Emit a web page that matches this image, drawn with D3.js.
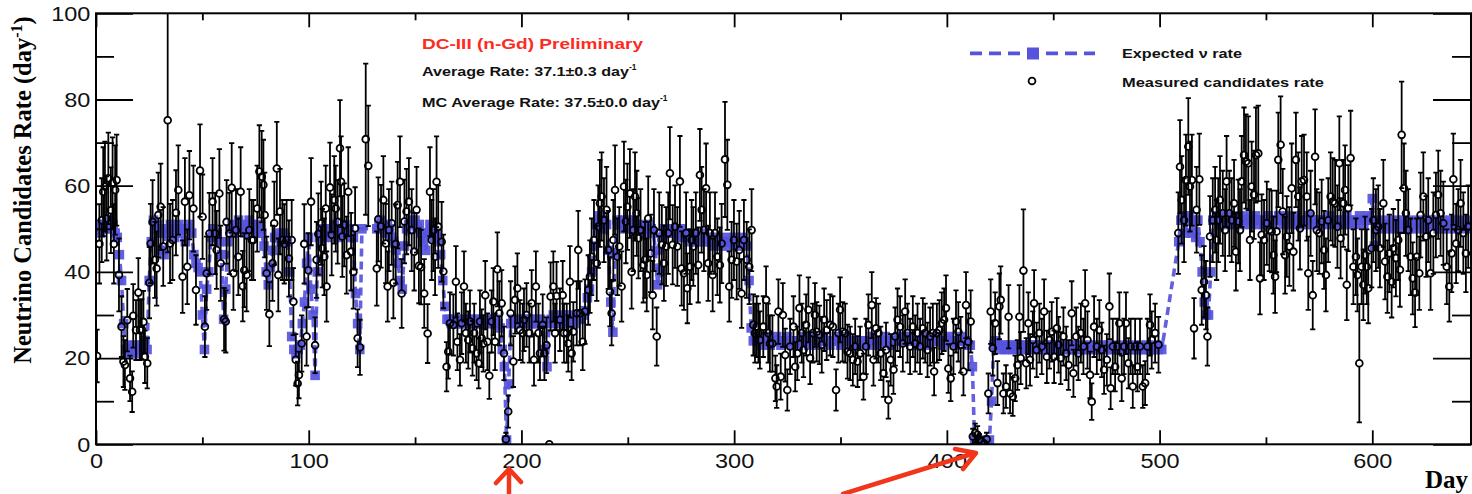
<!DOCTYPE html>
<html><head><meta charset="utf-8">
<script src="https://cdn.jsdelivr.net/npm/d3@7"></script>
<style>
html,body{margin:0;padding:0;background:#fff;}
svg{display:block;}
</style></head>
<body>
<svg id="chart" width="1472" height="494"></svg>
<script>
// Measured daily neutrino-candidate rate: [day, candidates per day]
const candidates = [
[0.5,20.5],[1.6,46.5],[2.7,52],[3.4,58.6],[4.2,59.8],[5,52.4],[5.8,61.7],[7,54.3],[7.8,60.7],[8.4,46.5],[9,59],[9.7,61.3],[10.8,39.3],[12,27.3],[12.9,19.2],[13.6,18.4],[14.7,28.8],[16,15.3],[17,12.2],[17.5,29.8],[18.8,26.5],[19.9,35.2],[20.7,26.5],[21.5,26.7],[22.3,28.4],[23,20.3],[24.1,18.8],[25.1,37.5],[25.7,46.6],[26.6,51.6],[27.7,42.8],[28.5,40.8],[29.3,53.2],[30.4,55.1],[31.6,45.9],[33.7,75.2],[34.8,46.6],[36,47.4],[37.6,53.7],[38.7,59],[40.7,38.9],[41.8,56.3],[42.9,41.2],[43.9,57.8],[45.8,54.7],[47,35.8],[48.9,63.5],[50.1,52.8],[51.2,27.3],[52,39.7],[53.3,48.9],[54.8,56.3],[56,48.9],[56.7,45.1],[58,58.2],[58.6,42],[60.2,29],[61,28.5],[61.4,51.6],[62.7,48.9],[63.8,59.5],[64.6,39.7],[65.8,49.7],[66.9,43.5],[68,58.6],[69,36.7],[69.7,40.4],[70.8,39.3],[72.1,49.7],[73.2,47.4],[74,47.4],[75.8,54.7],[76.8,63.3],[77.9,62.1],[78.7,60.2],[79.3,53.2],[80.2,39.7],
[81.5,30.2],[83,42],[83.8,51.3],[85,64],[85.7,39.3],[86.5,54],[87.6,47.4],[88.5,46.5],[89.6,47.4],[90.7,43.1],[92,47.4],[92.8,33.1],[93.9,19.6],[94.8,14.1],[95.4,16.1],[96.7,23.4],[97.9,46.5],[99,25],[99.8,40.4],[101.1,56.3],[103,23],[103.7,42.8],[104.5,48.8],[105.8,51.3],[106.4,45.5],[107.3,43.5],[108,54.7],[108.4,36.6],[110,59.6],[110.8,48.6],[112,56.7],[112.7,54.7],[113.6,51.6],[114.7,68.7],[115.2,60.9],[115.8,48.2],[116.7,50.9],[117.8,43.9],[118.6,58.6],[119.9,44.7],[121,40],[121.8,50.1],[123,24.6],[124.1,22.5],[126.8,70.8],[128,64.6],[132,40.8],[132.7,52.2],[134,50.6],[135.1,56.7],[136.2,46.6],[137.1,36.6],[137.7,49.7],[139,51.3],[139.8,37.5],[140.9,46.5],[141.8,55.5],[142.9,60.9],[143.7,35],[145,51.7],[146,54],[147.1,56.3],[148.4,49.7],[149.6,44.7],[150.7,54.4],[151.8,41.4],[152.8,41.1],[154.3,35],[155.9,25.7],[157,58.6],[157.8,47.4],[158.6,49.7],[159.4,43.5],[160.1,60.9],[160.9,50.5],[162.5,47],
[163.3,40.1],[164.8,18],[165.6,21.5],[166.4,28.1],[168,27.7],[169.2,37.7],[169.9,23.8],[171.1,19.6],[171.9,28.1],[173,36.6],[173.9,25.8],[175,24.2],[175.8,28.5],[177,22.3],[177.8,25.8],[178.9,21.1],[179.9,18.8],[180.5,28.5],[181.3,24.6],[182.1,23.4],[183,34.6],[184,23.8],[184.9,15.9],[186,28.5],[186.8,33.1],[187.6,23.8],[188.7,40.6],[189.6,30.4],[190.7,32.7],[191.8,21.1],[192.7,1.2],[193.8,7.6],[194.9,30.4],[196.2,19.2],[197,33.5],[198.1,36.2],[199.3,26.5],[200.6,25.8],[201.2,28.9],[202.4,30],[203.7,25.8],[204.8,32.7],[205.9,19.6],[206.8,36.6],[208,25.8],[208.7,21.1],[210,27.7],[210.8,21.1],[211.8,23],[213.1,0],[213.7,34.3],[215,36.6],[215.8,25.8],[216.5,34.4],[218.1,28.9],[219.4,34.6],[220,25.8],[221.3,25.8],[222,23.4],[222.8,37.7],[223.6,21.1],[224.4,26.1],[226,30.4],[226.7,45.1],[227.5,30.4],[228.8,23.8],[229.9,30.8],[231.4,35.8],[232.2,38.9],[233,43.5],[234.1,47.4],[235.4,42],[236.1,50.5],[236.9,55.9],[237.7,57.5],[238.8,52],[240,54.4],[240.8,45.1],[241.6,35.4],[242.4,30.4],[243.2,47.4],[244,59],[245.1,43.5],[246,45.9],[247.1,36.6],[248.2,59.8],[249.1,51.7],[249.8,55.1],[251,58.2],[251.8,40],[252.6,49.7],[253.4,57.5],[254.2,53.6],[255,47.8],[256,49.7],[257.3,41.6],[258.1,42.8],[258.9,39.3],[259.6,52.4],[260.7,44.3],[261.7,34.6],[262.3,49.7],[263.6,25],[264.8,49],[266,46.3],[267,42],[268,45.9],[269,49],[269.8,62.9],[271.1,46.3],[272.2,50.5],[273.3,45.9],[274.5,61],[275.3,40.8],[276.4,39.7],[277.4,49],[278,36.2],[279.2,41.2],[280,47.4],[280.8,45.9],[282,49],[283.1,41.6],[283.9,62.5],[284.7,54.4],[285.8,49.7],[286.8,59.4],[287.8,42],[288.6,49],[289.9,39.3],[291,49],[292.1,43.5],[293.3,41.6],[294.1,46.6],[295.7,66.1],[296.8,60.2],[297.7,36.6],[298.8,42.8],[299.9,47.4],[301.2,42.4],[302.4,45.1],[303.5,35],[304.6,47.4],[305.9,42.8],[307.1,41.2],[308.2,49.7],[309,27.7],[309.8,25.8],[310.6,27.3],[311.4,25.8],[312.1,24.2],[313.7,27.3],[315,33.5],[316,25.8],[316.8,23.4],[318,23.4],[319.4,15.3],[320,13.4],
[320.8,30.8],[321.9,15.7],[322.9,30],[324,20.7],[325,12.6],[326.3,22.7],[327.9,27.3],[328.7,18],[329.7,21.1],[330.7,31.6],[331.8,25.8],[332.6,21.9],[333.8,27.7],[334.9,31.2],[335.7,20],[337,25.8],[338,30],[338.8,26.1],[340.1,25.4],[341.2,23.1],[342.3,28.9],[343.5,26.5],[345.1,27.7],[346.4,27.3],[347.9,12.6],[349,25.8],[349.8,31.2],[351,26.1],[352.2,25.8],[353.3,21.5],[354.5,21.1],[355.8,19.6],[356.9,22.7],[358,19.2],[359.2,21.1],[360.8,15.7],[362,22.7],[363.1,27.7],[364.7,32.3],[365.5,19.6],[366.7,26.9],[367.8,25.8],[368.9,21.1],[370.2,16.5],[371.4,21.9],[372.5,10.3],[373.6,19.6],[374.9,17.3],[375.7,25],[376.8,28.9],[378,27.3],[379.3,23.4],[380.4,30.8],[381.5,25.8],[382.7,22.7],[384,27.3],[385.1,23.4],[386.2,25.8],[387.4,22.7],[388.7,26.9],[389.8,25.8],[390.9,21.9],[392.1,25],[393.4,25.8],[394,16.9],[395.3,25.8],[396.5,26.5],[397.6,28.1],[398.7,28.9],[399.6,31.6],[400.7,17.6],[401.8,15.3],[403.1,22.7],[404.3,28.5],[405.4,26.1],[406.5,23.1],[407.8,16.9],[409,32.3],[410.1,23.8],[411.2,28.5],[412.2,1.8],[413.3,2.6],[414.4,2.2],[415.3,1],[416.4,0.6],[417.5,0.2],[418.7,1.2],[419.5,11.8],[420.6,30.8],[421.6,22.3],[422.7,28.1],[423.8,14.2],[424.7,32],[425.3,33.5],[426.6,11.8],[427.8,13.4],[429,29.6],[429.7,11.8],[431,11.1],[432.1,15.3],[433.2,18.4],[434.1,29.6],[434.7,20],[436,40.3],[437.3,18.8],[438.3,28.1],[439.1,19.6],[440.4,24.2],[441,32.7],[442.2,21.9],[443.5,25.8],[444.6,22.7],[445.7,30.8],[447,20.3],[448.2,24.2],[449.3,26.1],[450.4,20.3],[451.7,26.9],[452.5,23.1],[453.5,20],[454.8,25],[456.1,21.1],[457.2,18.4],[458.7,30.4],[459.5,16.5],[460.8,25],[461.8,21.1],[463,25.8],[464.2,22.7],[465,32.7],[466.1,24.2],[467.3,16.1],[468.1,9.9],[469.2,27.3],[470.5,22.7],[471.7,26.5],[472.8,21.9],[473.9,17.3],[475.2,19.6],[476.4,32],[477,13],[478,22.7],[479.1,18],[480.2,22.7],[481.1,28.1],[482.2,15.3],[483.3,22.7],[484.2,28.1],[485.4,18.8],[486.4,22.7],[487.4,13.4],[488.5,22.7],[489.6,18],[490.8,22.7],[492.1,13.4],[493.2,14.2],[494.3,22.7],[495.5,27.7],[496.3,24.2],[497.9,25.8],[499.5,23.1],
[508.8,49],[509.6,64.4],[510.4,56.7],[511.5,52],[512.4,61.3],[513.5,69.1],[514.3,59.8],[515.2,61.3],[516.2,26.9],[517.4,54.4],[518.7,61.5],[519.8,35.8],[520.9,37.7],[521.8,34.6],[522.5,25],[523.7,48.2],[525,52],[526.1,54.4],[526.8,47.4],[527.6,52],[528.4,56.7],[529.7,53.6],[530.8,49.7],[531.5,61],[532.8,53.6],[533.9,52],[535,55.9],[535.9,44.7],[537,51.7],[537.8,49.7],[538.6,61],[539.7,67.1],[540.6,65.6],[541.7,65.2],[542.5,47.4],[543.3,59.8],[544.4,57.9],[545.3,67.1],[546.4,67.5],[547.2,38.5],[548,48.6],[549.1,47.4],[550.4,51.3],[551.6,49.7],[552.7,49.4],[553.5,43.9],[554.3,38.9],[555,49.4],[555.8,66],[556.9,69.5],[557.9,54],[559,43.9],[559.8,48.2],[561,45.9],[562.1,59.4],[562.9,44.7],[564.1,66],[565.2,57.5],[566,50.1],[566.8,61],[567.9,61.3],[569.2,57.5],[569.9,39.7],[571,53.6],[572,34.6],[573.1,66.7],[573.9,49.7],[575.1,49],[576.2,51.7],[577.3,45.1],[578.2,39.3],[579.3,52],[580.4,57.5],[581.4,56.3],[582.5,55.9],[583.6,50.5],[584.5,65.2],[585.1,47.8],[586.4,55.9],[587.2,59],[588,37],[588.7,54.8],[589.8,66.4],[591.1,41.2],[592.3,43.5],[593,39.3],[593.9,18.8],[595,41.2],[595.8,37],[596.6,43.9],[597.4,41.2],[598.1,36.2],[599.7,45.5],[600.5,52],[601.7,49.7],[602.8,50.5],[603.6,45.5],[605.2,55.9],[606,42.4],[607.1,38.9],[608,44.3],[609.1,37.7],[609.9,45.5],[611.1,43.2],[612.2,47.4],[613,40.5],[613.8,71.8],[614.9,59.4],[615.8,53.6],[616.9,49.7],[618,43.5],[619,38.5],[620.1,35.2],[620.9,43.5],[622.1,39.7],[622.7,53.2],[624,57.5],[625.3,48.2],[626.3,52],[627.4,39.7],[628.7,49],[629.9,53.2],[631,57.9],[632.1,53.6],[633.4,51.3],[635,41.2],[636.2,36.6],[637.3,44.3],[638.1,61.5],[639.4,46.6],[640.4,49.7],[641.5,55.9],[642.8,49],[644,44.3],[645.1,50.5]
];

// Days with short live time (larger statistical error): [day, live fraction]
const shortLiveDays = [[33.7,0.08],[126.8,0.23],[128,0.33],[295.7,0.37],[436,0.2],[593.9,0.1],[613.8,0.47]];
const typicalLive = 0.55;

// Expected reactor-neutrino rate, consecutive daily values from a start day
const expectedRuns = [
[0,[50,51,49,50,51,50,52,50,51,49, 48,44,38,28,22,23,21,22,23,21, 22,23,22,24,22,38,47,52,50,51,
    49,45,44,50,49,51,50,48,50,51, 49,50,47,50,51,49,44,42,41,40, 30,22,36,40,48,50,48,49,47,44,
    29,36,47,50,51,49,50,52,50,51, 49,50,52,51,50,49,51,50,49,46, 40,37,41,45,48,49,48,47,49,48,
    47,40,25,22,21,22,23,28,33,42, 48,36,30,16,40,48,49,50,49,48, 50,49,51,50,48,49,50,51,49,50,
    48,48,35,28,22,50]],
[132,[50,51,52,50,49,51,50,48,47,45, 42,38,36,46,50,51,52,51,52,50, 51,49,47,45,49,51,50,48,49,47,
    44,38,32,29,29,28,29,28,28,29, 28,29,28,28,29,28,29,28,29,28, 28,29,29,28,29,28,29,28,27,22,
    18,1,14,28,29,28,29,28,29,29, 28,29,28,29,28,29,28,29,28,22, 18,28,29,30,29,28,29,30,29,28,
    29,30,29,28,29,30,29,30,31,34, 36,40,46,51,53,52,50,52,51,45, 33,26,44,52,51,52,50,51,52,51,
    50,52,51,50,51,50,49,50,51,50, 49,45,37,40,48,50,49,50,49,50, 49,48,49,50,48,49,48,47,48,49,
    47,48,47,48,49,47,48,47,46,47, 48,47,46,47,48,47,46,47,48,47, 46,47,48,47,46,38,27,24,25,24,
    24,23,24,25,24,23,24,24,25,24, 23,24,24,25,24,23,24,24,23,24, 24,25,24,23,24,25,24,23,24,24,
    25,24,24,23,24,24,25,24,23,24, 24,25,24,23,24,24,23,24,23,24, 24,23,24,25,24,24,23,24,24,25,
    24,24,23,24,24,25,24,25,24,25, 24,25,24,24,23,24,24,25,24,24, 23,24,24,25,24,24,23,24,24,25,
    24,24,23,24,24,25,24,24,23,23, 18,1,0,0,1,0,0,0,1,10, 23,24,23,22,23,22,23,22,23,22,
    23,22,23,22,23,22,23,22,23,22, 23,22,23,22,22,23,22,23,22,22, 23,22,22,23,22,22,23,22,22,23,
    22,22,23,22,22,23,22,22,23,22, 22,23,22,22,23,22,22,23,22,22, 23,22,22,23,22,22,23,22,22,23,
    22,22,23,22,22,23,22,22,23,22]],
[509,[47,52,53,49,52,53,49,52,48,52, 47,40,33,30,30,40,52,52,53,51, 52,53,52,51,53,52,51,52,53,52,
    51,52,53,52,51,52,53,52,51,52, 51,52,53,52,51,52,52,53,52,51, 52,53,52,51,52,53,52,51,52,51,
    52,53,52,51,52,51,52,51,52,51, 52,53,52,51,52,51,52,51,52,53, 52,51,52,51,52,53,52,51,52,53,
    52,57,46,51,52,51,50,51,52,51, 50,51,52,51,50,51,52,51,50,51, 52,51,50,51,52,51,50,51,52,51,
    52,51,50,51,52,51,50,51,52,51, 50,51,52,51,50,51,52,51,50,51, 52,51,50,51,52,51,50]]
];

const xMajorTicks = [0,100,200,300,400,500,600];
const xMinorTicks = [50,150,250,350,450,550];
const yMajorTicks = [0,20,40,60,80,100];
const yMinorTicks = [10,30,50,70,90];

const titleLines = {
  header: "DC-III (n-Gd) Preliminary",
  avg: "Average Rate: 37.1\u00B10.3 day",
  mcAvg: "MC Average Rate: 37.5\u00B10.0 day",
  expected: "Expected \u03BD rate",
  measured: "Measured candidates rate"
};

const plot = {left: 96, right: 1471, top: 13.3, bottom: 444.3};
const blue = "#5654dd";

const svg = d3.select("#chart");
const x = d3.scaleLinear().domain([0, 646.4]).range([plot.left, plot.right]);
const y = d3.scaleLinear().domain([0, 100]).range([plot.bottom, plot.top]);

svg.append("defs").append("clipPath").attr("id", "frame")
  .append("rect").attr("x", plot.left).attr("y", plot.top)
  .attr("width", plot.right - plot.left).attr("height", plot.bottom - plot.top);

// expected series flattened into [day, rate]
const expected = [];
expectedRuns.forEach(([start, vals]) => vals.forEach((v, i) => expected.push([start + i, v])));

const data = svg.append("g").attr("clip-path", "url(#frame)");

// expected: dashed line with full square markers
const SQ = 9.6;
data.append("path")
  .attr("d", d3.line().x(d => x(d[0])).y(d => y(d[1]))(expected))
  .attr("fill", "none").attr("stroke", blue).attr("stroke-width", 3.6)
  .attr("stroke-dasharray", "8,5").attr("opacity", 0.92);
data.append("g").selectAll("rect").data(expected).join("rect")
  .attr("x", d => x(d[0]) - SQ / 2).attr("y", d => y(d[1]) - SQ / 2)
  .attr("width", SQ).attr("height", SQ)
  .attr("fill", blue).attr("opacity", 0.92);

// measured: statistical error bars and open circles
const liveOf = new Map(shortLiveDays.map(d => [d[0], d[1]]));
const R = 3.4;
const meas = candidates.map(([d, r]) => {
  const live = liveOf.has(d) ? liveOf.get(d) : typicalLive;
  return {d, r, e: Math.sqrt(r / live)};
});
const bars = data.append("g").attr("stroke", "#000").attr("stroke-width", 1.8).attr("fill", "none");
meas.forEach(m => {
  if (m.e <= 0) return;
  const cx = x(m.d), cy = y(m.r);
  const yt = y(m.r + m.e), yb = y(Math.max(0, m.r - m.e));
  let p = "";
  if (cy - R > yt) p += `M${cx},${yt}V${cy - R}M${cx - 2.6},${yt}H${cx + 2.6}`;
  if (cy + R < yb) p += `M${cx},${cy + R}V${yb}M${cx - 2.6},${yb}H${cx + 2.6}`;
  if (p) bars.append("path").attr("d", p);
});
data.append("g").selectAll("circle").data(meas).join("circle")
  .attr("cx", m => x(m.d)).attr("cy", m => y(m.r)).attr("r", R)
  .attr("fill", "none").attr("stroke", "#000").attr("stroke-width", 1.8);

// axes
const font = "'Liberation Sans', Arial, sans-serif";
function styleAxis(g, labels) {
  g.select(".domain").remove();
  g.selectAll(".tick line").attr("stroke", "#000").attr("stroke-width", 1.8);
  g.selectAll(".tick text").attr("font-family", font).attr("font-size", 21).attr("fill", "#111")
    .attr("transform", "scale(1.12,1)");
  if (!labels) g.selectAll(".tick text").remove();
}
svg.append("g").attr("transform", `translate(0,${plot.bottom})`)
  .call(d3.axisBottom(x).tickValues(xMajorTicks).tickSizeInner(-14).tickSizeOuter(0).tickPadding(9).tickFormat(d3.format("d")))
  .call(g => styleAxis(g, true));
svg.append("g").attr("transform", `translate(0,${plot.bottom})`)
  .call(d3.axisBottom(x).tickValues(xMinorTicks).tickSizeInner(-7).tickSizeOuter(0))
  .call(g => styleAxis(g, false));
svg.append("g").attr("transform", `translate(0,${plot.top})`)
  .call(d3.axisTop(x).tickValues(xMajorTicks).tickSizeInner(-14).tickSizeOuter(0))
  .call(g => styleAxis(g, false));
svg.append("g").attr("transform", `translate(0,${plot.top})`)
  .call(d3.axisTop(x).tickValues(xMinorTicks).tickSizeInner(-7).tickSizeOuter(0))
  .call(g => styleAxis(g, false));
svg.append("g").attr("transform", `translate(${plot.left},0)`)
  .call(d3.axisLeft(y).tickValues(yMajorTicks).tickSizeInner(-37).tickSizeOuter(0).tickPadding(5).tickFormat(d3.format("d")))
  .call(g => styleAxis(g, true));
svg.append("g").attr("transform", `translate(${plot.left},0)`)
  .call(d3.axisLeft(y).tickValues(yMinorTicks).tickSizeInner(-18).tickSizeOuter(0))
  .call(g => styleAxis(g, false));
svg.append("g").attr("transform", `translate(${plot.right},0)`)
  .call(d3.axisRight(y).tickValues(yMajorTicks).tickSizeInner(-38).tickSizeOuter(0))
  .call(g => styleAxis(g, false));
svg.append("g").attr("transform", `translate(${plot.right},0)`)
  .call(d3.axisRight(y).tickValues(yMinorTicks).tickSizeInner(-19).tickSizeOuter(0))
  .call(g => styleAxis(g, false));

// frame
svg.append("rect").attr("x", plot.left).attr("y", plot.top)
  .attr("width", plot.right - plot.left).attr("height", plot.bottom - plot.top)
  .attr("fill", "none").attr("stroke", "#000").attr("stroke-width", 2);

// axis titles
const serif = "'Liberation Serif', 'Times New Roman', serif";
svg.append("text").attr("x", 1468).attr("y", 488).attr("text-anchor", "end")
  .attr("font-family", serif).attr("font-weight", "bold").attr("font-size", 25).text("Day");
const yt = svg.append("text").attr("transform", "translate(31,190) rotate(-90)")
  .attr("text-anchor", "middle").attr("font-family", serif).attr("font-weight", "bold").attr("font-size", 24.5);
yt.append("tspan").text("Neutrino Candidates Rate (day");
yt.append("tspan").attr("dy", -9).attr("font-size", 16).text("-1");
yt.append("tspan").attr("dy", 9).text(")");

// text block (widths follow the stretched lettering of the panel)
function boxText(xp, yp, str, size, width, color, sup) {
  const t = svg.append("text").attr("x", xp).attr("y", yp).attr("font-family", font)
    .attr("font-weight", "bold").attr("font-size", size).attr("fill", color);
  const main = t.append("tspan").text(str);
  if (sup) {
    main.attr("textLength", width).attr("lengthAdjust", "spacingAndGlyphs");
    t.append("tspan").attr("dy", -6).attr("font-size", size * 0.62).text("-1");
  } else {
    t.attr("textLength", width).attr("lengthAdjust", "spacingAndGlyphs");
  }
}
boxText(422, 49, titleLines.header, 15.5, 221, "#ff2a1e", false);
boxText(422, 76, titleLines.avg, 13.5, 207, "#111", true);
boxText(422, 107, titleLines.mcAvg, 13.5, 238, "#111", true);

// legend
const lg = svg.append("g");
lg.append("line").attr("x1", 970).attr("x2", 1095).attr("y1", 53.3).attr("y2", 53.3)
  .attr("stroke", blue).attr("stroke-width", 3.8).attr("stroke-dasharray", "12,7");
lg.append("rect").attr("x", 1027).attr("y", 47.5).attr("width", 12).attr("height", 12).attr("fill", blue);
lg.append("circle").attr("cx", 1032).attr("cy", 81).attr("r", R).attr("fill", "none")
  .attr("stroke", "#000").attr("stroke-width", 1.8);
boxText(1122, 58, titleLines.expected, 13.5, 120, "#111", false);
boxText(1122, 86.5, titleLines.measured, 13.5, 202, "#111", false);

// red pointer arrows
const arrows = svg.append("g").attr("stroke", "#f2361c").attr("stroke-width", 4.5)
  .attr("fill", "none").attr("stroke-linecap", "round").attr("stroke-linejoin", "round");
arrows.append("path").attr("d", "M509,494V470M496,483L509,469L521,482");
arrows.append("path").attr("d", "M843,494L975,453M955,449L976,453L963,469");
</script>
</body></html>
